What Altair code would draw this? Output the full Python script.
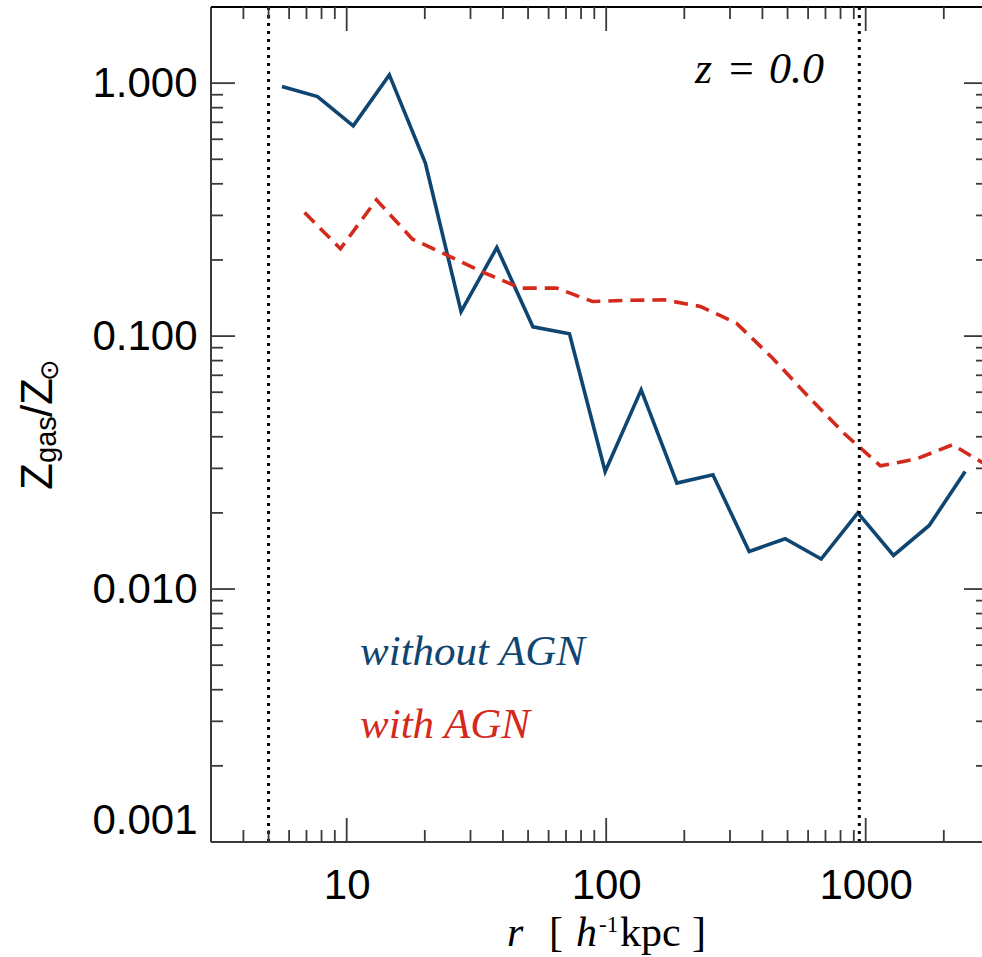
import altair as alt
import pandas as pd

# Gas metallicity profiles, r in h^-1 kpc, Z in solar units
r_noagn = [5.63, 7.72, 10.6, 14.6, 20.1, 27.6, 37.9, 52.2, 72.2, 99.1,
           136.4, 187.3, 257.8, 355.7, 489.5, 673.7, 933.0, 1280.0, 1757.0, 2418.0]
z_noagn = [0.970, 0.885, 0.678, 1.078, 0.483, 0.125, 0.224, 0.1088, 0.1021, 0.02915,
           0.0613, 0.02624, 0.02829, 0.01408, 0.0158, 0.01314, 0.02002, 0.01358, 0.01784, 0.02915]

r_agn = [6.88, 9.46, 13.02, 17.93, 24.68, 33.96, 46.74, 64.34, 88.56, 121.9,
         167.8, 230.9, 317.8, 437.3, 602.0, 828.5, 1140.0, 1570.0, 2160.0, 2973.0]
z_agn = [0.308, 0.2214, 0.3457, 0.2417, 0.2077, 0.1779, 0.1548, 0.1548, 0.137, 0.1385,
         0.1391, 0.1309, 0.1125, 0.0819, 0.0576, 0.0411, 0.0307, 0.0327, 0.0372, 0.0306]

# vertical reference radii (softening scale and virial radius)
r_marks = [5, 945]

# tick positions
x_major = [10, 100, 1000]
x_minor = [4, 5, 6, 7, 8, 9, 20, 30, 40, 50, 60, 70, 80, 90,
           200, 300, 400, 500, 600, 700, 800, 900, 2000]
y_major = [0.001, 0.01, 0.1, 1.0]
y_minor = [0.002, 0.003, 0.004, 0.005, 0.006, 0.007, 0.008, 0.009,
           0.02, 0.03, 0.04, 0.05, 0.06, 0.07, 0.08, 0.09,
           0.2, 0.3, 0.4, 0.5, 0.6, 0.7, 0.8, 0.9]

W, H = 771, 835
RIGHT = 777          # right frame edge (just past the visible page)
MAJOR, MINOR = 24, 12
BLUE = "#0f4571"
RED = "#d42a1c"
AX = "#3a3a3a"
SANS = "Liberation Sans, DejaVu Sans"
SERIF = "Liberation Serif"

xs = alt.Scale(type="log", domain=[3, 2807])
ys = alt.Scale(type="log", domain=[0.001, 2])

x_axis = alt.Axis(values=x_major, format="d", tickSize=0, domain=False, grid=False,
                  labelFont=SANS, labelFontSize=42, labelColor="black",
                  labelPadding=23, labelFlush=False, labelOverlap=False, title=None)
y_axis = alt.Axis(values=y_major, format=".3f", tickSize=0, domain=False, grid=False,
                  labelFont=SANS, labelFontSize=42, labelColor="black",
                  labelPadding=14, labelFlush=True, labelOverlap=False, title=None)

X = alt.X("r:Q", scale=xs)
Y = alt.Y("z:Q", scale=ys)

noagn = pd.DataFrame({"r": r_noagn, "z": z_noagn})
agn = pd.DataFrame({"r": r_agn, "z": z_agn})

line_noagn = alt.Chart(noagn).mark_line(color=BLUE, strokeWidth=3.6).encode(
    x=alt.X("r:Q", scale=xs, axis=x_axis),
    y=alt.Y("z:Q", scale=ys, axis=y_axis),
    order="r:Q",
)
line_agn = alt.Chart(agn).mark_line(color=RED, strokeWidth=3.6, strokeDash=[14, 8]).encode(
    x=X, y=Y, order="r:Q",
)

marks = alt.Chart(pd.DataFrame({"r": r_marks})).mark_rule(
    color="black", strokeWidth=3, strokeDash=[3, 5]
).encode(x=X)

one = pd.DataFrame({"k": [0]})
frame = [
    alt.Chart(one).mark_rule(color=AX, strokeWidth=2).encode(
        x=alt.value(0), y=alt.value(0), y2=alt.value(H)),
    alt.Chart(one).mark_rule(color=AX, strokeWidth=2).encode(
        x=alt.value(0), x2=alt.value(RIGHT), y=alt.value(H)),
    alt.Chart(one).mark_rule(color="black", strokeWidth=2).encode(
        x=alt.value(0), x2=alt.value(RIGHT), y=alt.value(0)),
]


def xticks(vals, length):
    d = pd.DataFrame({"r": vals})
    bottom = alt.Chart(d).mark_rule(color=AX, strokeWidth=1.8).encode(
        x=X, y=alt.value(H), y2=alt.value(H - length))
    top = alt.Chart(d).mark_rule(color=AX, strokeWidth=1.8).encode(
        x=X, y=alt.value(0), y2=alt.value(length))
    return [bottom, top]


def yticks(vals, length):
    d = pd.DataFrame({"z": vals})
    left = alt.Chart(d).mark_rule(color=AX, strokeWidth=1.8).encode(
        y=Y, x=alt.value(0), x2=alt.value(length))
    right = alt.Chart(d).mark_rule(color=AX, strokeWidth=1.8).encode(
        y=Y, x=alt.value(RIGHT), x2=alt.value(RIGHT - length))
    return [left, right]


def text(s, x, y, size, color="black", font=SERIF, style="italic", angle=0):
    return alt.Chart(one).mark_text(
        text=s, font=font, fontSize=size, fontStyle=style, color=color,
        align="left", baseline="alphabetic", angle=angle,
    ).encode(x=alt.value(x), y=alt.value(y))


labels = [
    # panel redshift
    text("z", 484, 76, 44),
    text("=", 518, 76, 44, style="normal"),
    text("0.0", 558, 76, 44),
    # run labels
    text("without AGN", 149, 658, 43, color=BLUE),
    text("with AGN", 149, 731, 43, color=RED),
    # x-axis title: r [ h^-1 kpc ]
    text("r", 296, 939, 42),
    text("[", 338, 939, 42, style="normal"),
    text("h", 365, 939, 42),
    text("-1", 388, 925, 23, style="normal"),
    text("kpc", 409, 939, 42, style="normal"),
    text("]", 481, 939, 42, style="normal"),
    # y-axis title: Z_gas / Z_sun, reading upward
    text("Z", -159, 483, 44, font=SANS, style="normal", angle=270),
    text("gas", -155, 456, 29, font=SANS, style="normal", angle=270),
    text("/", -159, 410, 44, font=SANS, style="normal", angle=270),
    text("Z", -159, 398, 44, font=SANS, style="normal", angle=270),
    text("\u2299", -153, 374, 26, font=SANS, style="normal", angle=270),
]

layers = ([line_noagn, line_agn, marks] + frame
          + xticks(x_major, MAJOR) + xticks(x_minor, MINOR)
          + yticks(y_major, MAJOR) + yticks(y_minor, MINOR)
          + labels)

chart = alt.layer(*layers).properties(
    width=W, height=H,
    autosize=alt.AutoSizeParams(type="none"),
    padding={"left": 211, "top": 7, "right": 0, "bottom": 115},
    background="white",
).configure_view(stroke=None)

chart.save("out.html", embed_options={"renderer": "svg", "actions": False})
